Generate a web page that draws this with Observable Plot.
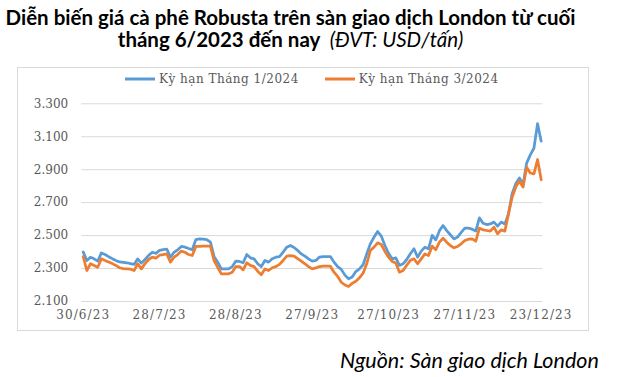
<!DOCTYPE html>
<html>
<head>
<meta charset="utf-8">
<script src="https://cdn.jsdelivr.net/npm/d3@7"></script>
<script src="https://cdn.jsdelivr.net/npm/@observablehq/plot@0.6"></script>
<style>
  html, body { margin: 0; padding: 0; background: #fff; }
  #page { position: relative; width: 628px; height: 377px; overflow: hidden; }
  #title { position: absolute; top: 6px; left: 0; width: 581px; text-align: center;
    font-family: Lato, "Open Sans", sans-serif; font-weight: 700; font-size: 20.5px; line-height: 22px; color: #000; white-space: nowrap; }
  #title i { font-weight: 400; }
  #frame { position: absolute; left: 17px; top: 67px; width: 570px; height: 262px; border: 1px solid #d9d9d9; }
  #legend { position: absolute; top: 72px; left: 125px; display: flex; gap: 26px;
    font-family: "DejaVu Serif", serif; font-size: 12px; letter-spacing: 0.5px; color: #595959; white-space: nowrap; }
  #legend span { display: inline-flex; align-items: center; }
  #legend svg { margin-right: 4px; }
  #chart { position: absolute; left: 16px; top: 90px; }
  #chart g[aria-label="x-axis tick label"] text { letter-spacing: 1.1px; }
  #source { position: absolute; top: 347px; left: 340px; font-family: Lato, sans-serif; font-style: italic;
    font-size: 21.5px; color: #000; white-space: nowrap; }
</style>
</head>
<body>
<div id="page">
  <div id="title">Diễn biến giá cà phê Robusta trên sàn giao dịch London từ cuối<br>tháng 6/2023 đến nay&nbsp; <i>(ĐVT: USD/tấn)</i></div>
  <div id="frame"></div>
  <div id="legend"></div>
  <div id="chart"></div>
  <div id="source">Nguồn: Sàn giao dịch London</div>
</div>
<script>
const seriesNames = ["Kỳ hạn Tháng 1/2024", "Kỳ hạn Tháng 3/2024"];
const seriesColors = ["#5B9BD5", "#ED7D31"];
const xTickLabels = ["30/6/23", "28/7/23", "28/8/23", "27/9/23", "27/10/23", "27/11/23", "23/12/23"];
const xTickIndex = [0, 21, 42, 63, 84, 105, 126];
const yTicks = [2100, 2300, 2500, 2700, 2900, 3100, 3300];

const jan24 = [
  2401, 2349, 2369, 2359, 2345, 2395, 2385, 2372, 2360, 2349,
  2340, 2338, 2335, 2330, 2325, 2359, 2333, 2355, 2380, 2399,
  2392, 2410, 2415, 2418, 2369, 2399, 2414, 2434, 2430, 2422,
  2414, 2476, 2480, 2478, 2476, 2460, 2374, 2339, 2298, 2298,
  2298, 2312, 2345, 2343, 2335, 2385, 2365, 2359, 2329, 2312,
  2349, 2339, 2360, 2369, 2373, 2399, 2430, 2440, 2428, 2410,
  2389, 2375, 2359, 2345, 2349, 2370, 2373, 2373, 2373, 2339,
  2312, 2295, 2260, 2238, 2248, 2282, 2298, 2323, 2389, 2450,
  2490, 2525, 2497, 2440, 2393, 2359, 2365, 2319, 2329, 2355,
  2390, 2420, 2369, 2406, 2430, 2420, 2501, 2474, 2530, 2561,
  2530, 2505, 2480, 2491, 2520, 2545, 2545, 2539, 2527, 2608,
  2575, 2567, 2571, 2582, 2557, 2582, 2571, 2632, 2754, 2815,
  2850, 2810, 2940, 2990, 3030, 3179, 3073
];
const mar24 = [
  2373, 2288, 2329, 2319, 2308, 2359, 2349, 2340, 2330, 2319,
  2305, 2300, 2298, 2296, 2288, 2329, 2298, 2330, 2355, 2369,
  2363, 2381, 2385, 2389, 2339, 2369, 2385, 2406, 2399, 2385,
  2379, 2434, 2434, 2436, 2436, 2436, 2349, 2308, 2268, 2268,
  2268, 2278, 2312, 2312, 2292, 2335, 2319, 2312, 2284, 2262,
  2298, 2288, 2305, 2312, 2325, 2349, 2375, 2379, 2376, 2360,
  2345, 2329, 2312, 2298, 2304, 2312, 2314, 2314, 2314, 2278,
  2252, 2217, 2200, 2191, 2210, 2223, 2244, 2272, 2329, 2410,
  2430, 2456, 2446, 2404, 2369, 2343, 2333, 2278, 2288, 2320,
  2350, 2359, 2329, 2359, 2389, 2379, 2436, 2414, 2460, 2484,
  2460, 2440, 2426, 2434, 2450, 2470, 2478, 2480, 2466, 2545,
  2535, 2531, 2527, 2551, 2511, 2535, 2527, 2632, 2733, 2794,
  2831, 2794, 2915, 2880, 2875, 2962, 2839
];

// Legend
const legend = document.getElementById("legend");
seriesNames.forEach((name, k) => {
  const s = document.createElement("span");
  s.innerHTML = `<svg width="30" height="4"><line x1="0" y1="2" x2="30" y2="2" stroke="${seriesColors[k]}" stroke-width="3"/></svg>${name}`;
  legend.appendChild(s);
});

const fmt = d => d3.format(",")(d).replace(/,/g, ".");

const chart = Plot.plot({
  width: 572,
  height: 240,
  marginLeft: 66.7,
  marginRight: 47.3,
  marginTop: 13.3,
  marginBottom: 29,
  style: { fontFamily: "DejaVu Serif, serif", fontSize: "12px", color: "#595959", background: "transparent" },
  x: { domain: [0, 126], label: null },
  y: { domain: [2100, 3300], label: null },
  marks: [
    Plot.ruleY(yTicks, { stroke: "#d9d9d9", strokeWidth: 1, insetLeft: -1.5, insetRight: -1.5 }),
    Plot.axisY({ ticks: yTicks, tickSize: 0, tickPadding: 15, tickFormat: fmt, label: null }),
    Plot.axisX({ ticks: xTickIndex, tickSize: 0, tickPadding: 9, label: null,
      tickFormat: d => xTickLabels[xTickIndex.indexOf(d)] }),
    Plot.lineY(jan24, { x: (d, i) => i, y: d => d, stroke: seriesColors[0], strokeWidth: 2.75 }),
    Plot.lineY(mar24, { x: (d, i) => i, y: d => d, stroke: seriesColors[1], strokeWidth: 2.75 })
  ]
});
document.getElementById("chart").appendChild(chart);
</script>
</body>
</html>
